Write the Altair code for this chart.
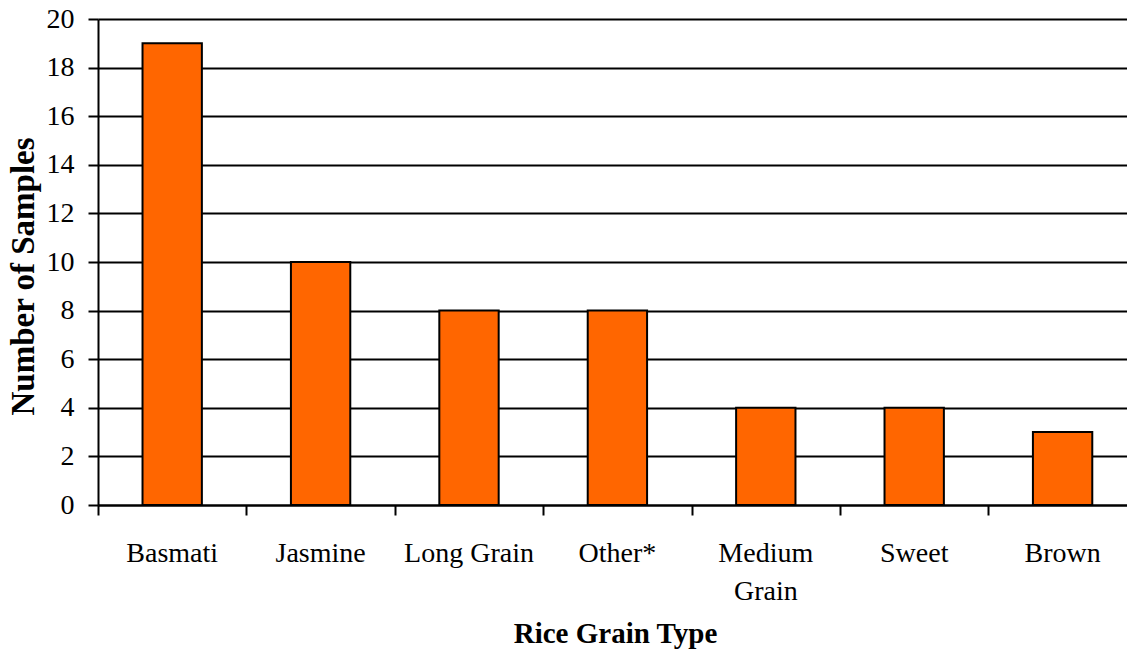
import altair as alt
import pandas as pd

# Rice grain types and how many samples of each were tested
categories = ["Basmati", "Jasmine", "Long Grain", "Other*", "Medium Grain", "Sweet", "Brown"]
tick_labels = ["Basmati", "Jasmine", "Long Grain", "Other*", "Medium\nGrain", "Sweet", "Brown"]
samples = [19, 10, 8, 8, 4, 4, 3]
y_ticks = [0, 2, 4, 6, 8, 10, 12, 14, 16, 18, 20]

df = pd.DataFrame({
    "category": categories,
    "label": tick_labels,
    "samples": samples,
    "slot": list(range(len(categories))),
})

FONT = "Liberation Serif"
PLOT_W, PLOT_H = 1029, 486
SLOT_PX = 148.4
# category slots run past the right edge of the page
x_scale = alt.Scale(domain=[0, PLOT_W / SLOT_PX], nice=False, zero=False, padding=0)

x_axis = alt.Axis(
    values=list(range(len(categories))),
    labels=False,
    grid=False,
    tickSize=10,
    tickWidth=2,
    tickColor="black",
    domainColor="black",
    domainWidth=2,
    title="Rice Grain Type",
    titleFont=FONT,
    titleFontSize=29,
    titleFontWeight="bold",
    titleColor="black",
    titleAlign="center",
    titleBaseline="alphabetic",
    titleX=517,
    titleY=137,
)

bars = (
    alt.Chart(df)
    .transform_calculate(x0="datum.slot + 0.3", x1="datum.slot + 0.7")
    .mark_bar(color="#FF6600", stroke="black", strokeWidth=2, orient="vertical")
    .encode(
        x=alt.X("x0:Q", scale=x_scale, axis=x_axis),
        x2="x1:Q",
        y=alt.Y(
            "samples:Q",
            scale=alt.Scale(domain=[0, 20], nice=False, padding=0),
            axis=alt.Axis(
                values=y_ticks,
                labelFont=FONT,
                labelFontSize=28,
                labelColor="black",
                labelPadding=14,
                tickSize=10,
                tickWidth=2,
                tickColor="black",
                domainColor="black",
                domainWidth=2,
                grid=True,
                gridColor="black",
                gridWidth=2,
                gridOpacity=1,
                title="Number of Samples",
                titleFont=FONT,
                titleFontSize=33,
                titleFontWeight="bold",
                titleColor="black",
                titleAlign="center",
                titleBaseline="alphabetic",
                titleX=-65,
                titleY=257,
            ),
        ),
        y2=alt.datum(0),
    )
)

labels = (
    alt.Chart(df)
    .transform_calculate(xc="datum.slot + 0.5")
    .mark_text(
        font=FONT,
        fontSize=28,
        color="black",
        align="center",
        baseline="alphabetic",
        lineBreak="\n",
        lineHeight=38,
    )
    .encode(
        x=alt.X("xc:Q", scale=x_scale, axis=x_axis),
        y=alt.value(543),
        text="label:N",
    )
)

chart = (
    alt.layer(bars, labels)
    .properties(
        width=PLOT_W,
        height=PLOT_H,
        padding={"left": 98, "top": 19, "right": 0, "bottom": 145},
        autosize=alt.AutoSizeParams(type="none"),
        background="white",
    )
    .configure_view(strokeWidth=0)
    .configure_scale(continuousPadding=0)
)

chart.save("out.html", embed_options={"renderer": "svg", "actions": False})
